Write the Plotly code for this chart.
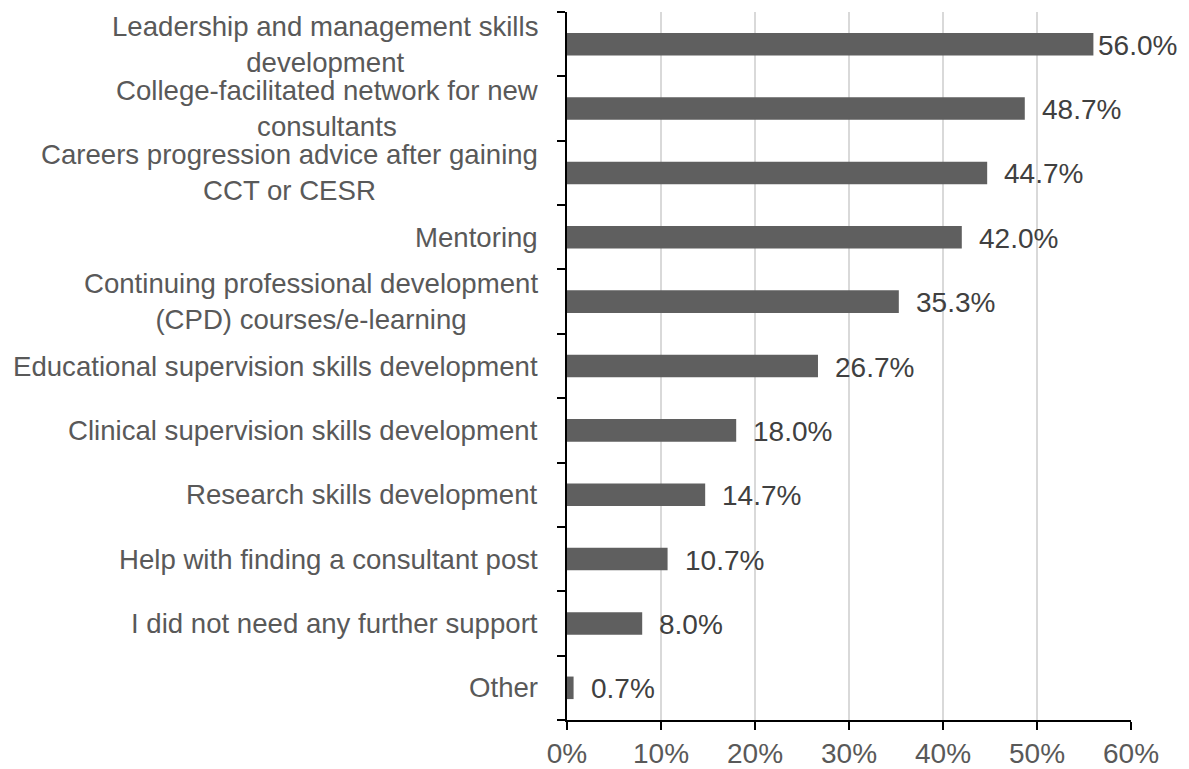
import plotly.graph_objects as go

categories = [
    "Leadership and management skills<br>development",
    "College-facilitated network for new<br>consultants",
    "Careers progression advice after gaining<br>CCT or CESR",
    "Mentoring",
    "Continuing professional development<br>(CPD) courses/e-learning",
    "Educational supervision skills development",
    "Clinical supervision skills development",
    "Research skills development",
    "Help with finding a consultant post",
    "I did not need any further support",
    "Other",
]
values = [56.0, 48.7, 44.7, 42.0, 35.3, 26.7, 18.0, 14.7, 10.7, 8.0, 0.7]
x_ticks = [0, 10, 20, 30, 40, 50, 60]

FONT = "Liberation Sans, Arial, sans-serif"
LABEL_COLOR = "#595959"
VALUE_COLOR = "#404040"
CAT_SIZE = 27.6
SIZE = 28
X_MAX = 60

fig = go.Figure(
    go.Bar(
        x=values,
        y=list(range(len(categories))),
        orientation="h",
        marker=dict(color="#5f5f5f", line=dict(width=0)),
        width=0.35,
        hoverinfo="x+y",
    )
)

# Category labels: lines centred within each block, block right-aligned to the axis
for i, label in enumerate(categories):
    fig.add_annotation(
        x=0, xref="paper", xanchor="right", xshift=-27,
        y=i, yref="y", yanchor="middle",
        text=label, showarrow=False, align="center",
        font=dict(family=FONT, size=CAT_SIZE, color=LABEL_COLOR),
    )

# Value labels just beyond the end of each bar
for i, v in enumerate(values):
    near_edge = v > X_MAX - 6
    fig.add_annotation(
        x=v, xref="x", xanchor="left", xshift=3 if near_edge else 15,
        y=i, yref="y", yanchor="middle", yshift=-1,
        text=f"{v:.1f}%", showarrow=False,
        font=dict(family=FONT, size=SIZE, color=VALUE_COLOR),
    )

fig.update_layout(
    width=1189, height=769,
    margin=dict(l=567, r=58, t=12, b=49, autoexpand=False),
    plot_bgcolor="white", paper_bgcolor="white",
    showlegend=False,
    xaxis=dict(
        range=[0, X_MAX],
        tickvals=x_ticks,
        ticktext=[f"{t}%" for t in x_ticks],
        showgrid=True, gridcolor="#d9d9d9", gridwidth=1.5,
        showline=True, linecolor="black", linewidth=1.5,
        ticks="outside", ticklen=8, tickcolor="black", tickwidth=1.5,
        tickfont=dict(family=FONT, size=SIZE, color=LABEL_COLOR),
        zeroline=False, automargin=False,
    ),
    yaxis=dict(
        range=[len(categories) - 0.5, -0.5],
        tickvals=[i - 0.5 for i in range(len(categories) + 1)],
        ticktext=[""] * (len(categories) + 1),
        showgrid=False,
        showline=True, linecolor="black", linewidth=1.5,
        ticks="outside", ticklen=8, tickcolor="black", tickwidth=1.5,
        zeroline=False, automargin=False,
    ),
)

fig.write_html("out.html")
